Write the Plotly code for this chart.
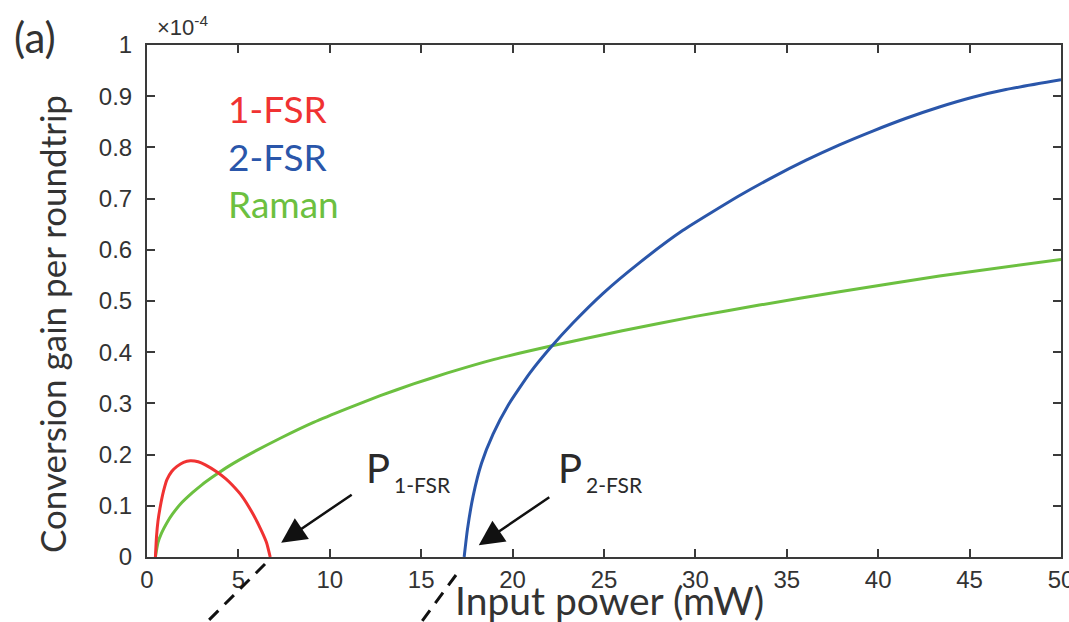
import plotly.graph_objects as go

# Conversion gain per roundtrip, in units of 1e-4, versus input power (mW)
power_1fsr = [0.46, 0.52, 0.6, 0.73, 0.9, 1.09, 1.35, 1.64, 2.0, 2.37, 2.8, 3.19,
              3.83, 4.3, 4.65, 5.19, 5.83, 6.29, 6.55, 6.74]
gain_1fsr = [0.0, 0.04, 0.07, 0.099, 0.128, 0.151, 0.167, 0.177, 0.185, 0.188, 0.186, 0.18,
             0.166, 0.153, 0.141, 0.119, 0.082, 0.049, 0.027, 0.0]

power_2fsr = [17.35, 17.53, 17.84, 18.3, 18.93, 19.75, 20.94, 22.1, 23.3, 24.95,
              26.95, 29.32, 32.42, 34.24, 36.06, 37.88, 39.7, 41.53, 43.35, 45.17, 46.99, 50.0]
gain_2fsr = [0.0, 0.054, 0.119, 0.183, 0.24, 0.296, 0.359, 0.41, 0.457, 0.515,
             0.575, 0.638, 0.706, 0.742, 0.775, 0.805, 0.832, 0.857, 0.879, 0.898, 0.913, 0.932]

power_raman = [0.46, 0.6, 0.8, 1.09, 1.4, 1.82, 2.5, 3.0, 3.74, 4.5, 5.47, 7.29, 9.11,
               10.94, 12.76, 14.58, 16.4, 19.0, 22.1, 26.0, 30.0, 33.5, 37.88, 43.35, 50.0]
gain_raman = [0.0, 0.028, 0.047, 0.067, 0.084, 0.103, 0.126, 0.141, 0.16, 0.178, 0.198, 0.232,
              0.263, 0.29, 0.315, 0.338, 0.359, 0.386, 0.412, 0.442, 0.47, 0.492, 0.518, 0.549, 0.581]

x_ticks = [0, 5, 10, 15, 20, 25, 30, 35, 40, 45, 50]
y_ticks = [0, 0.1, 0.2, 0.3, 0.4, 0.5, 0.6, 0.7, 0.8, 0.9, 1]
y_tick_text = ["0", "0.1", "0.2", "0.3", "0.4", "0.5", "0.6", "0.7", "0.8", "0.9", "1"]

RED = "#f03232"
BLUE = "#2a56aa"
GREEN = "#6cc040"
INK = "#333333"

W, H = 1069, 622
L, R, T, B = 147, 8, 45, 65
PW, PH = W - L - R, H - T - B


def px(x):
    return (x - L) / PW


def py(y):
    return (H - B - y) / PH


fig = go.Figure()
for xs, ys, col, name in [(power_raman, gain_raman, GREEN, "Raman"),
                          (power_2fsr, gain_2fsr, BLUE, "2-FSR"),
                          (power_1fsr, gain_1fsr, RED, "1-FSR")]:
    fig.add_trace(go.Scatter(x=xs, y=ys, mode="lines", name=name,
                             line=dict(color=col, width=3, shape="spline", smoothing=0.5)))

axis_common = dict(showline=True, linecolor="#3a3a3a", linewidth=2, mirror="ticks",
                   ticks="inside", ticklen=8, tickwidth=2, tickcolor="#3a3a3a",
                   showgrid=False, zeroline=False, automargin=False,
                   tickfont=dict(family="Liberation Sans, Arial", size=24, color=INK))

fig.update_layout(
    width=W, height=H,
    margin=dict(l=L, r=R, t=T, b=B, pad=0, autoexpand=False),
    paper_bgcolor="white", plot_bgcolor="white",
    showlegend=False,
    xaxis=dict(range=[0, 50], tickvals=x_ticks, ticklabelstandoff=0,
               ticklabeloverflow="allow", **axis_common),
    yaxis=dict(range=[0, 1], tickvals=y_ticks, ticktext=y_tick_text,
               ticklabelstandoff=8, **axis_common),
)


def label(text, x, y, size, color=INK, family="Lato", xanchor="center", **kw):
    return dict(text=text, x=px(x), y=py(y), xref="paper", yref="paper",
                xanchor=xanchor, yanchor="middle", showarrow=False,
                font=dict(family=family, size=size, color=color), **kw)


ann = []
# axis titles
ann.append(label("Input power (mW)", 609, 600, 39))
ann.append(label("Conversion gain per roundtrip", 52, 324, 35, textangle=-90))
# panel label and exponent
ann.append(label("(a)", 12, 37, 42, xanchor="left"))
ann.append(label("×10<sup>-4</sup>", 155, 26, 22, family="Liberation Sans, Arial",
                 xanchor="left"))
# series labels
for text, col, yc in [("1-FSR", RED, 108), ("2-FSR", BLUE, 156), ("Raman", GREEN, 203)]:
    ann.append(label(text, 226, yc, 37, color=col, xanchor="left"))

# threshold markers: arrow tips sit just past the zero crossings
for x_tip, y_tip, sub, x_txt in [(power_1fsr[-1] + 0.6, 0.028, "1-FSR", 364),
                                  (power_2fsr[0] + 0.8, 0.023, "2-FSR", 556)]:
    ann.append(dict(x=x_tip, y=y_tip, xref="x", yref="y", text="", showarrow=True,
                    ax=72, ay=-49, arrowhead=2, arrowsize=2, arrowwidth=2.5,
                    arrowcolor="#111111", standoff=0))
    ann.append(label("P", x_txt, 468, 40, color="#2a2a2a", xanchor="left"))
    ann.append(label(sub, x_txt + 28, 484, 21, color="#2a2a2a", xanchor="left"))
fig.update_layout(annotations=ann)

# dashed guide lines below the axis
for (x0, y0, x1, y1) in [(265, 564, 205, 624), (456, 575, 420, 624)]:
    fig.add_shape(type="line", xref="paper", yref="paper",
                  x0=px(x0), y0=py(y0), x1=px(x1), y1=py(y1),
                  line=dict(color="#111111", width=3, dash="13px,9px"))

fig.write_html("out.html")
